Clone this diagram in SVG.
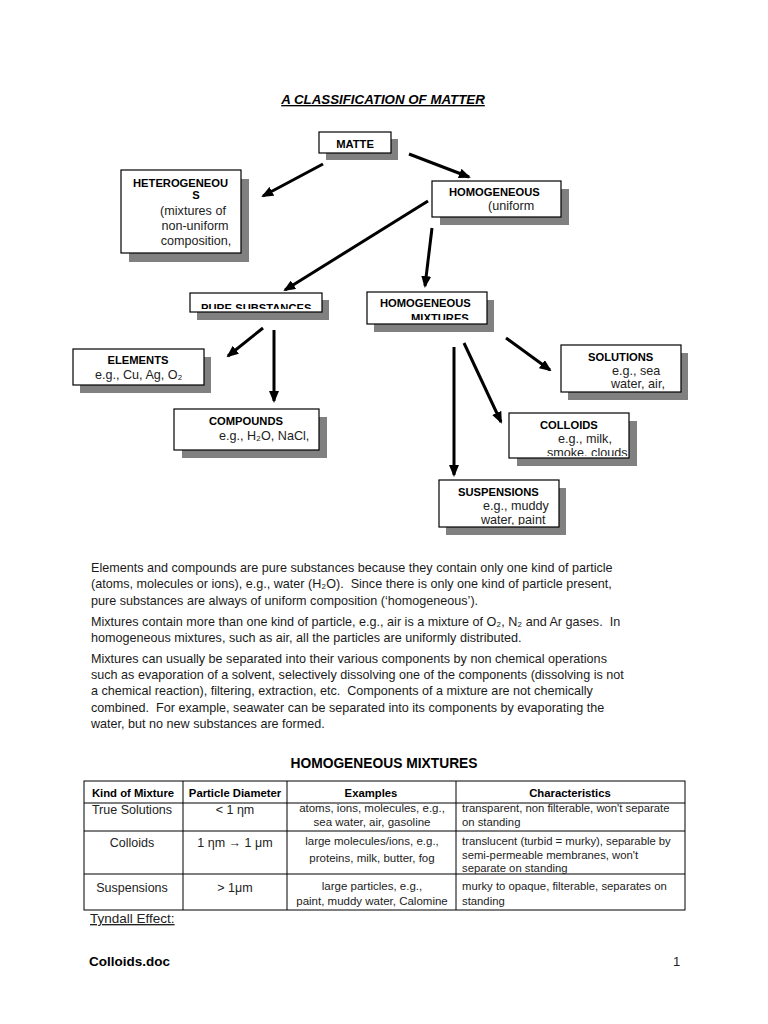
<svg xmlns="http://www.w3.org/2000/svg" width="768" height="1024" viewBox="0 0 768 1024">
<style>
.box{fill:#fff;stroke:#000;stroke-width:1.2}
.sh{fill:#808080}
.h{font-family:"Liberation Sans",Arial,sans-serif;font-weight:bold;font-size:11.2px;fill:#000}
.s{font-family:"Liberation Sans",Arial,sans-serif;font-size:12.6px;fill:#222}
.p{font-family:"Liberation Sans",Arial,sans-serif;font-size:12.6px;fill:#1a1a1a;white-space:pre}
.th{font-family:"Liberation Sans",Arial,sans-serif;font-weight:bold;font-size:11.3px;fill:#000;text-anchor:middle}
.tc{font-family:"Liberation Sans",Arial,sans-serif;font-size:12.5px;fill:#222;text-anchor:middle}
.te{font-family:"Liberation Sans",Arial,sans-serif;font-size:11.5px;fill:#222;text-anchor:middle}
.tr{font-family:"Liberation Sans",Arial,sans-serif;font-size:11.3px;fill:#222}
.ar{stroke:#000;stroke-width:3;fill:none;marker-end:url(#ah)}
.tl{stroke:#000;stroke-width:1}
</style>
<defs>
<marker id="ah" viewBox="0 0 12 10" refX="10" refY="5" markerWidth="12" markerHeight="10" markerUnits="userSpaceOnUse" orient="auto">
<path d="M0,0 L12,5 L0,10 z" fill="#000"/>
</marker>
<clipPath id="cPure"><rect x="191" y="294" width="130" height="15"/></clipPath>
<clipPath id="cHm"><rect x="368" y="293" width="118" height="27"/></clipPath>
<clipPath id="cComp"><rect x="175" y="410" width="143" height="40"/></clipPath>
<clipPath id="cSol"><rect x="562" y="346" width="118" height="44"/></clipPath>
<clipPath id="cCol"><rect x="510" y="414" width="118" height="42"/></clipPath>
<clipPath id="cSus"><rect x="440" y="481" width="118" height="44"/></clipPath>
</defs>
<rect width="768" height="1024" fill="#fff"/>

<text x="383" y="104" text-anchor="middle" font-family="'Liberation Sans',Arial,sans-serif" font-weight="bold" font-style="italic" font-size="13.3" text-decoration="underline">A CLASSIFICATION OF MATTER</text>

<g id="connectors">
<line class="ar" x1="323" y1="164" x2="263" y2="196"/>
<line class="ar" x1="409" y1="154" x2="469" y2="177"/>
<line class="ar" x1="428" y1="201" x2="285" y2="290"/>
<line class="ar" x1="432" y1="228" x2="425" y2="286"/>
<line class="ar" x1="263" y1="328" x2="228" y2="356"/>
<line class="ar" x1="274" y1="330" x2="274" y2="401"/>
<line class="ar" x1="506" y1="338" x2="550" y2="370"/>
<line class="ar" x1="464" y1="343" x2="501" y2="422"/>
<line class="ar" x1="454" y1="347" x2="454" y2="475"/>
</g>

<g id="matter">
<rect class="sh" x="326" y="139" width="72" height="21"/>
<rect class="box" x="319" y="132" width="72" height="21"/>
<text class="h" x="355" y="148" text-anchor="middle" font-size="13">MATTE</text>
</g>

<g id="heterogeneous">
<rect class="sh" x="129" y="179" width="120" height="83"/>
<rect class="box" x="121" y="170" width="120" height="83"/>
<text class="h" x="133" y="187">HETEROGENEOU</text>
<text class="h" x="196" y="199" text-anchor="middle">S</text>
<text class="s" x="193" y="215" text-anchor="middle">(mixtures of</text>
<text class="s" x="195" y="230" text-anchor="middle">non-uniform</text>
<text class="s" x="196" y="245" text-anchor="middle">composition,</text>
</g>

<g id="homogeneous">
<rect class="sh" x="440" y="189" width="129" height="36"/>
<rect class="box" x="432" y="181" width="129" height="36"/>
<text class="h" x="449" y="196">HOMOGENEOUS</text>
<text class="s" x="488" y="210">(uniform</text>
</g>

<g id="pure-substances">
<rect class="sh" x="197" y="300" width="132" height="20"/>
<rect class="box" x="190" y="293" width="132" height="19"/>
<text class="h" x="201" y="312" clip-path="url(#cPure)">PURE SUBSTANCES</text>
</g>

<g id="homogeneous-mixtures">
<rect class="sh" x="374" y="300" width="120" height="32"/>
<rect class="box" x="367" y="292" width="120" height="32"/>
<text class="h" x="380" y="307">HOMOGENEOUS</text>
<text class="h" x="411" y="322" clip-path="url(#cHm)">MIXTURES</text>
</g>

<g id="elements">
<rect class="sh" x="80" y="357" width="131" height="36"/>
<rect class="box" x="73" y="349" width="131" height="36"/>
<text class="h" x="138" y="364" text-anchor="middle">ELEMENTS</text>
<text class="s" x="95" y="379">e.g., Cu, Ag, O₂</text>
</g>

<g id="compounds">
<rect class="sh" x="182" y="417" width="145" height="41"/>
<rect class="box" x="174" y="409" width="145" height="41"/>
<text class="h" x="209" y="425">COMPOUNDS</text>
<text class="s" x="219" y="440" clip-path="url(#cComp)">e.g., H₂O, NaCl,</text>
</g>

<g id="solutions">
<rect class="sh" x="568" y="353" width="120" height="47"/>
<rect class="box" x="561" y="345" width="120" height="47"/>
<text class="h" x="588" y="361">SOLUTIONS</text>
<text class="s" x="612" y="375" clip-path="url(#cSol)">e.g., sea</text>
<text class="s" x="611" y="388" clip-path="url(#cSol)">water, air,</text>
</g>

<g id="colloids">
<rect class="sh" x="517" y="421" width="120" height="45"/>
<rect class="box" x="509" y="413" width="120" height="45"/>
<text class="h" x="540" y="429">COLLOIDS</text>
<text class="s" x="558" y="443" clip-path="url(#cCol)">e.g., milk,</text>
<text class="s" x="547" y="457" clip-path="url(#cCol)">smoke, clouds</text>
</g>

<g id="suspensions">
<rect class="sh" x="446" y="488" width="120" height="47"/>
<rect class="box" x="439" y="480" width="120" height="47"/>
<text class="h" x="458" y="496">SUSPENSIONS</text>
<text class="s" x="483" y="510" clip-path="url(#cSus)">e.g., muddy</text>
<text class="s" x="481" y="524" clip-path="url(#cSus)">water, paint</text>
</g>

<g id="paragraphs">
<text class="p" x="91" y="572">Elements and compounds are pure substances because they contain only one kind of particle</text>
<text class="p" x="91" y="588">(atoms, molecules or ions), e.g., water (H₂O).  Since there is only one kind of particle present,</text>
<text class="p" x="91" y="605">pure substances are always of uniform composition (‘homogeneous’).</text>
<text class="p" x="91" y="626">Mixtures contain more than one kind of particle, e.g., air is a mixture of O₂, N₂ and Ar gases.  In</text>
<text class="p" x="91" y="642">homogeneous mixtures, such as air, all the particles are uniformly distributed.</text>
<text class="p" x="91" y="663">Mixtures can usually be separated into their various components by non chemical operations</text>
<text class="p" x="91" y="679">such as evaporation of a solvent, selectively dissolving one of the components (dissolving is not</text>
<text class="p" x="91" y="695">a chemical reaction), filtering, extraction, etc.  Components of a mixture are not chemically</text>
<text class="p" x="91" y="712">combined.  For example, seawater can be separated into its components by evaporating the</text>
<text class="p" x="91" y="728">water, but no new substances are formed.</text>
</g>

<g id="table">
<text x="384" y="768" text-anchor="middle" font-family="'Liberation Sans',Arial,sans-serif" font-weight="bold" font-size="13.8">HOMOGENEOUS MIXTURES</text>
<rect x="84" y="781" width="601" height="129" fill="none" stroke="#000" stroke-width="1"/>
<line class="tl" x1="84" y1="803" x2="685" y2="803"/>
<line class="tl" x1="84" y1="831" x2="685" y2="831"/>
<line class="tl" x1="84" y1="874" x2="685" y2="874"/>
<line class="tl" x1="183" y1="781" x2="183" y2="910"/>
<line class="tl" x1="287" y1="781" x2="287" y2="910"/>
<line class="tl" x1="456" y1="781" x2="456" y2="910"/>
<text class="th" x="133" y="797">Kind of Mixture</text>
<text class="th" x="235" y="797">Particle Diameter</text>
<text class="th" x="371" y="797">Examples</text>
<text class="th" x="570" y="797">Characteristics</text>

<text class="tc" x="132" y="814">True Solutions</text>
<text class="tc" x="235" y="814">&lt; 1 ηm</text>
<text class="te" x="372" y="812">atoms, ions, molecules, e.g.,</text>
<text class="te" x="372" y="826">sea water, air, gasoline</text>
<text class="tr" x="462" y="812">transparent, non filterable, won't separate</text>
<text class="tr" x="462" y="826">on standing</text>

<text class="tc" x="132" y="847">Colloids</text>
<text class="tc" x="235" y="847">1 ηm → 1 μm</text>
<text class="te" x="372" y="845">large molecules/ions, e.g.,</text>
<text class="te" x="372" y="862">proteins, milk, butter, fog</text>
<text class="tr" x="462" y="845">translucent (turbid = murky), separable by</text>
<text class="tr" x="462" y="859">semi-permeable membranes, won't</text>
<text class="tr" x="462" y="872">separate on standing</text>

<text class="tc" x="132" y="892">Suspensions</text>
<text class="tc" x="235" y="892">&gt; 1μm</text>
<text class="te" x="372" y="890">large particles, e.g.,</text>
<text class="te" x="372" y="905">paint, muddy water, Calomine</text>
<text class="tr" x="462" y="890">murky to opaque, filterable, separates on</text>
<text class="tr" x="462" y="905">standing</text>
</g>

<text x="90" y="923" font-family="'Liberation Sans',Arial,sans-serif" font-size="13.5" fill="#222" text-decoration="underline">Tyndall Effect:</text>

<text x="89" y="966" font-family="'Liberation Sans',Arial,sans-serif" font-weight="bold" font-size="13.5" fill="#000">Colloids.doc</text>
<text x="673" y="966" font-family="'Liberation Sans',Arial,sans-serif" font-size="13" fill="#222">1</text>
</svg>
